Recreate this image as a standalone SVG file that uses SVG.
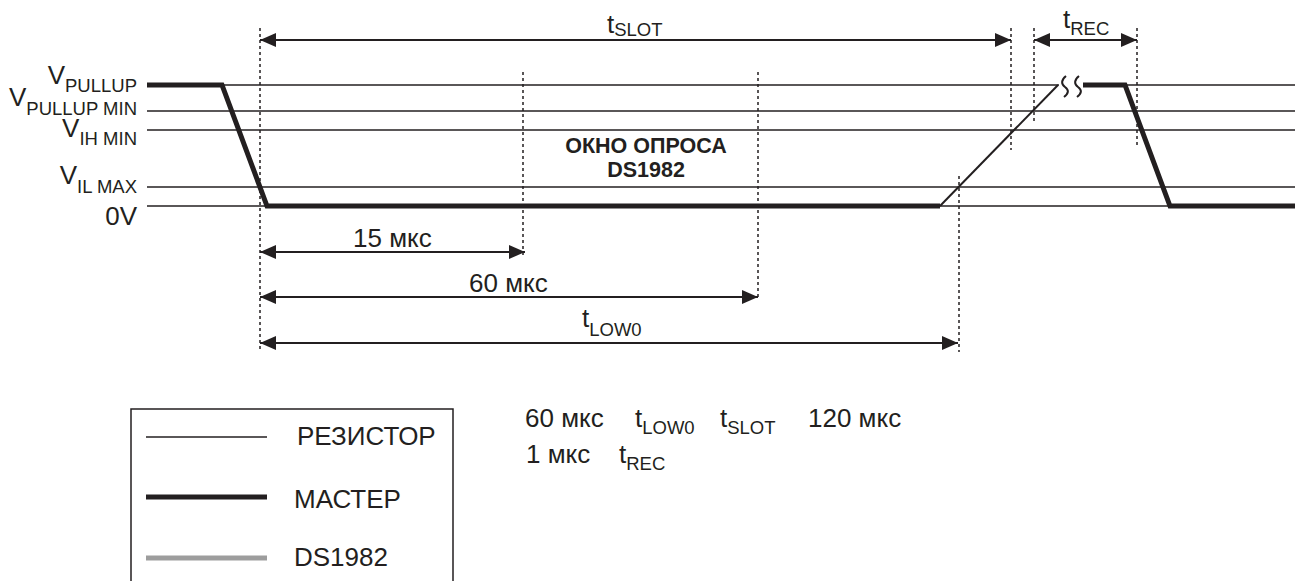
<svg xmlns="http://www.w3.org/2000/svg" width="1295" height="581" viewBox="0 0 1295 581">
<style>
text{font-family:"Liberation Sans",Arial,sans-serif;fill:#231f20}
.t{font-size:26px}
.s{font-size:18.5px}
.lvl{stroke:#231f20;stroke-width:1.5;fill:none}
.dot{stroke:#231f20;stroke-width:1.5;stroke-dasharray:3 3;fill:none}
.dim{stroke:#231f20;stroke-width:2;fill:none;marker-start:url(#ah);marker-end:url(#ah)}
.mst{stroke:#231f20;stroke-width:5;fill:none;stroke-linejoin:miter}
.res{stroke:#231f20;stroke-width:2;fill:none}
.b{font-size:21.5px;font-weight:bold}
</style>
<defs>
<marker id="ah" markerUnits="userSpaceOnUse" markerWidth="16" markerHeight="14" viewBox="0 0 16 14" refX="16" refY="7" orient="auto-start-reverse">
<path d="M0,0 L16,7 L0,14 Z" fill="#231f20"/>
</marker>
</defs>
<rect width="1295" height="581" fill="#fff"/>

<g id="levels">
<line class="lvl" x1="147" y1="85" x2="1059" y2="85"/>
<line class="lvl" x1="1083" y1="85" x2="1295" y2="85"/>
<line class="lvl" x1="147" y1="111" x2="1295" y2="111"/>
<line class="lvl" x1="147" y1="130" x2="1295" y2="130"/>
<line class="lvl" x1="147" y1="187" x2="1295" y2="187"/>
<line class="lvl" x1="147" y1="206" x2="1295" y2="206"/>
</g>

<g id="level-labels" class="t">
<text x="137" y="84" text-anchor="end">V<tspan class="s" dy="8">PULLUP</tspan></text>
<text x="137" y="106" text-anchor="end">V<tspan class="s" dy="9">PULLUP MIN</tspan></text>
<text x="137" y="137" text-anchor="end">V<tspan class="s" dy="8">IH MIN</tspan></text>
<text x="137" y="184" text-anchor="end">V<tspan class="s" dy="9">IL MAX</tspan></text>
<text x="137" y="225" text-anchor="end">0V</text>
</g>

<g id="guides">
<line class="dot" x1="260" y1="28" x2="260" y2="352"/>
<line class="dot" x1="523" y1="72" x2="523" y2="258"/>
<line class="dot" x1="758" y1="72" x2="758" y2="300"/>
<line class="dot" x1="959" y1="176" x2="959" y2="352"/>
<line class="dot" x1="1011" y1="28" x2="1011" y2="150"/>
<line class="dot" x1="1034" y1="28" x2="1034" y2="122"/>
<line class="dot" x1="1137" y1="28" x2="1137" y2="145"/>
</g>

<g id="waveforms">
<path class="mst" d="M147,85 L222,85 L267,206 L940,206"/>
<path class="res" d="M940,206 L1058,85"/>
<path class="mst" d="M1083,85 L1125,85 L1170,206 L1295,206"/>
<path class="res" d="M1066,76 C1061,80 1061,84 1065,87 C1069,90 1069,93 1064,97"/>
<path class="res" d="M1079,76 C1074,80 1074,84 1078,87 C1082,90 1082,93 1077,97"/>
</g>

<g id="dimensions">
<line class="dim" x1="260" y1="40" x2="1011" y2="40"/>
<line class="dim" x1="1034" y1="40" x2="1137" y2="40"/>
<line class="dim" x1="260" y1="252" x2="525" y2="252"/>
<line class="dim" x1="260" y1="297" x2="758" y2="297"/>
<line class="dim" x1="260" y1="343" x2="958" y2="343"/>
</g>

<g id="dimension-labels" class="t">
<text x="607" y="33">t<tspan class="s" dy="3">SLOT</tspan></text>
<text x="1063" y="28">t<tspan class="s" dy="7">REC</tspan></text>
<text x="353" y="247">15 мкс</text>
<text x="469" y="292">60 мкс</text>
<text x="582" y="327">t<tspan class="s" dy="9">LOW0</tspan></text>
</g>

<g id="window-label">
<text class="b" x="646" y="153" text-anchor="middle">ОКНО ОПРОСА</text>
<text class="b" x="646" y="177" text-anchor="middle">DS1982</text>
</g>

<g id="legend">
<path d="M131,581 L131,409 L453,409 L453,581" fill="none" stroke="#231f20" stroke-width="1.5"/>
<line x1="146" y1="437" x2="267" y2="437" stroke="#231f20" stroke-width="1.5"/>
<line x1="146" y1="497" x2="267" y2="497" stroke="#231f20" stroke-width="5"/>
<line x1="146" y1="558" x2="267" y2="558" stroke="#9d9d9d" stroke-width="5"/>
<text class="t" x="297" y="445">РЕЗИСТОР</text>
<text class="t" x="294" y="508">МАСТЕР</text>
<text class="t" x="294" y="566">DS1982</text>
</g>

<g id="notes" class="t">
<text x="525" y="427">60 мкс</text>
<text x="635" y="427">t<tspan class="s" dy="7">LOW0</tspan></text>
<text x="720" y="427">t<tspan class="s" dy="7">SLOT</tspan></text>
<text x="808" y="427">120 мкс</text>
<text x="526" y="463">1 мкс</text>
<text x="619" y="463">t<tspan class="s" dy="7">REC</tspan></text>
</g>
</svg>
